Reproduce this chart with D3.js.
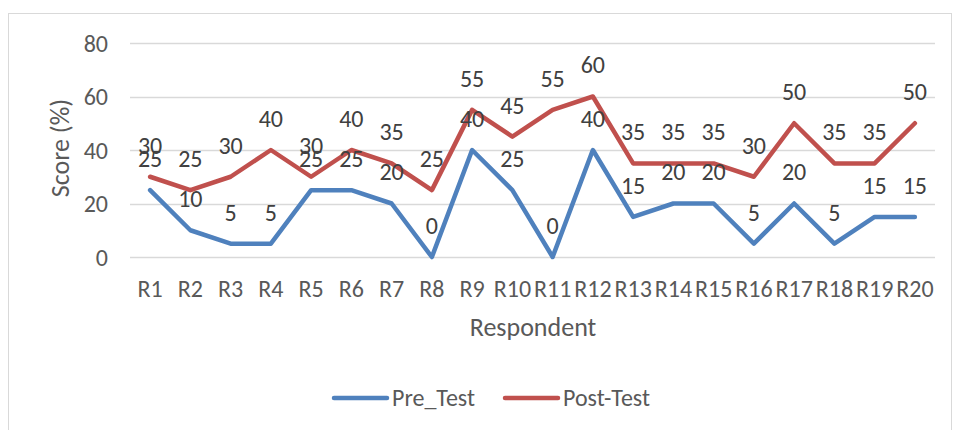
<!DOCTYPE html>
<html>
<head>
<meta charset="utf-8">
<script src="https://cdn.jsdelivr.net/npm/d3@7"></script>
<style>
  html, body { margin: 0; padding: 0; background: #fff; }
  svg { display: block; font-family: Carlito, Calibri, "Liberation Sans", Arial, sans-serif; }
</style>
</head>
<body>
<svg id="chart" width="953" height="430"></svg>
<script>
const categories = ["R1","R2","R3","R4","R5","R6","R7","R8","R9","R10","R11","R12","R13","R14","R15","R16","R17","R18","R19","R20"];
const preTest  = [25,10,5,5,25,25,20,0,40,25,0,40,15,20,20,5,20,5,15,15];
const postTest = [30,25,30,40,30,40,35,25,55,45,55,60,35,35,35,30,50,35,35,50];
const yTicks = [0,20,40,60,80];
const seriesNames = ["Pre_Test","Post-Test"];
const seriesColors = ["#4f81bd","#c0504d"];

const svg = d3.select("#chart");
const plot = {left: 130, right: 935, top: 43, bottom: 257};

// outer border
svg.append("rect")
  .attr("x", 8.5).attr("y", 13.5)
  .attr("width", 943).attr("height", 440)
  .attr("fill", "none").attr("stroke", "#d9d9d9").attr("stroke-width", 1);

const x = d3.scaleBand().domain(categories).range([plot.left, plot.right]);
const y = d3.scaleLinear().domain([0, 80]).range([plot.bottom, plot.top]);

// gridlines
svg.append("g").selectAll("line").data(yTicks).join("line")
  .attr("x1", plot.left).attr("x2", plot.right)
  .attr("y1", d => Math.round(y(d)) + 0.5).attr("y2", d => Math.round(y(d)) + 0.5)
  .attr("stroke", "#d9d9d9").attr("stroke-width", 1.5);

// y axis labels
const yAxis = d3.axisLeft(y).tickValues(yTicks).tickSize(0).tickPadding(22);
const gy = svg.append("g").attr("transform", `translate(${plot.left},0)`).call(yAxis);
gy.select(".domain").remove();
gy.selectAll("text").attr("fill", "#595959").style("font-size", "24px").style("font-family", null).attr("dy", "0.35em");

// x axis labels
const xAxis = d3.axisBottom(x).tickSize(0).tickPadding(32);
const gx = svg.append("g").attr("transform", `translate(0,${plot.bottom})`).call(xAxis);
gx.select(".domain").remove();
gx.selectAll("text").attr("fill", "#595959").style("font-size", "24px").attr("dy", "0.35em").attr("y", 32);
gy.attr("font-family", null); gx.attr("font-family", null);

// axis titles
svg.append("text")
  .attr("transform", `translate(60,148) rotate(-90)`)
  .attr("text-anchor", "middle").attr("dy", "0.35em")
  .attr("fill", "#595959").style("font-size", "26px")
  .text("Score (%)");
svg.append("text")
  .attr("x", 533).attr("y", 327).attr("dy", "0.35em")
  .attr("text-anchor", "middle")
  .attr("fill", "#595959").style("font-size", "26px")
  .text("Respondent");

// lines
const line = d3.line().x((d, i) => x(categories[i]) + x.bandwidth() / 2).y(d => y(d));
const allSeries = [preTest, postTest];
allSeries.forEach((vals, si) => {
  svg.append("path").datum(vals)
    .attr("fill", "none").attr("stroke", seriesColors[si])
    .attr("stroke-width", 4.5).attr("stroke-linejoin", "round").attr("stroke-linecap", "round")
    .attr("d", line);
});

// data labels
allSeries.forEach((vals, si) => {
  svg.append("g").selectAll("text").data(vals).join("text")
    .attr("x", (d, i) => x(categories[i]) + x.bandwidth() / 2)
    .attr("y", d => y(d) - 31.5)
    .attr("dy", "0.35em")
    .attr("text-anchor", "middle")
    .attr("fill", "#404040").style("font-size", "24px")
    .text(d => d);
});

// legend
const legend = [
  {name: seriesNames[0], color: seriesColors[0], x1: 334, x2: 387, tx: 392},
  {name: seriesNames[1], color: seriesColors[1], x1: 505, x2: 558, tx: 563}
];
const lg = svg.append("g");
legend.forEach(l => {
  lg.append("line").attr("x1", l.x1).attr("x2", l.x2).attr("y1", 398).attr("y2", 398)
    .attr("stroke", l.color).attr("stroke-width", 4.5).attr("stroke-linecap", "round");
  lg.append("text").attr("x", l.tx).attr("y", 398).attr("dy", "0.35em")
    .attr("fill", "#595959").style("font-size", "24px").text(l.name);
});
</script>
</body>
</html>
